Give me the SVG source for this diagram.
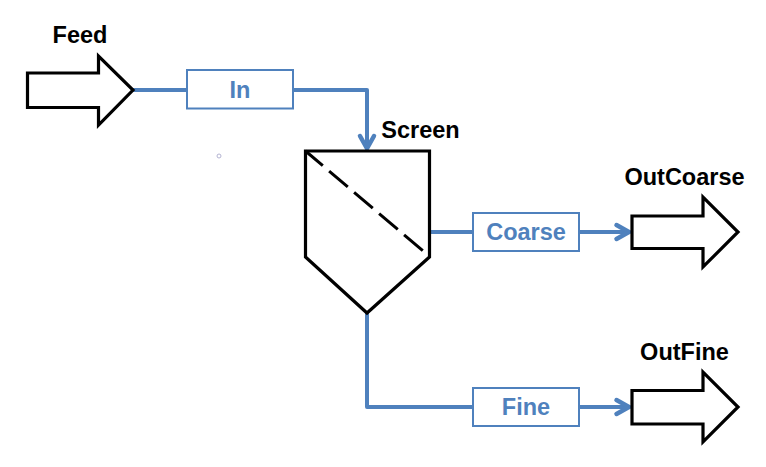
<svg xmlns="http://www.w3.org/2000/svg" width="766" height="467" viewBox="0 0 766 467">
<style>
text{font-family:"Liberation Sans",Arial,sans-serif;font-weight:bold;font-size:23.500px;text-anchor:middle}
.lbl{fill:#000}
.s{fill:#fff;stroke:#000;stroke-width:3.200;stroke-linejoin:miter}
.b{fill:#fff;stroke:#4f81bd;stroke-width:2}
.t{fill:#4f81bd}
.c{fill:none;stroke:#4f81bd;stroke-width:4;stroke-linejoin:round}
.h{fill:none;stroke:#4f81bd;stroke-width:4.500;stroke-linecap:round;stroke-linejoin:miter}
</style>
<rect width="766" height="467" fill="#fff"/>
<g id="connectors">
<path class="c" d="M133 90H187"/>
<path class="c" d="M293 90H367V148"/>
<path class="h" d="M360 136L367 148.500L374 136"/>
<path class="c" d="M430 232H473"/>
<path class="c" d="M579 232H629"/>
<path class="h" d="M616.500 225L629 232L616.500 239"/>
<path class="c" d="M367 313V407H473"/>
<path class="c" d="M579 407H629"/>
<path class="h" d="M616.500 400L629 407L616.500 414"/>
</g>
<g id="Feed">
<path class="s" d="M27.500 73H98.500V56L133 90L98.500 125V107.500H27.500Z"/>
<text class="lbl" x="80" y="42.500">Feed</text>
</g>
<g id="In">
<rect class="b" x="187" y="70" width="106" height="38.500"/>
<text class="t" x="240" y="97.500">In</text>
</g>
<g id="Screen">
<path class="s" d="M305.500 151H429.500V257L367 313L305.500 257Z"/>
<path d="M305.500 151L425.500 253" fill="none" stroke="#000" stroke-width="3" stroke-dasharray="24.500 8.300" stroke-dashoffset="1.800"/>
<text class="lbl" x="420.500" y="138">Screen</text>
</g>
<g id="Coarse">
<rect class="b" x="473" y="213" width="106" height="38"/>
<text class="t" x="526" y="240">Coarse</text>
</g>
<g id="OutCoarse">
<path class="s" d="M632 216H703V197L738 232L703 267V248.500H632Z"/>
<text class="lbl" x="684.500" y="185">OutCoarse</text>
</g>
<g id="Fine">
<rect class="b" x="473" y="388" width="106" height="38"/>
<text class="t" x="526" y="415">Fine</text>
</g>
<g id="OutFine">
<path class="s" d="M632 390.500H703V372L738 407L703 442V424H632Z"/>
<text class="lbl" x="684.500" y="360">OutFine</text>
</g>
<circle cx="219" cy="156" r="2" fill="#fff" stroke="#b4b4d2" stroke-width="1"/>
</svg>
